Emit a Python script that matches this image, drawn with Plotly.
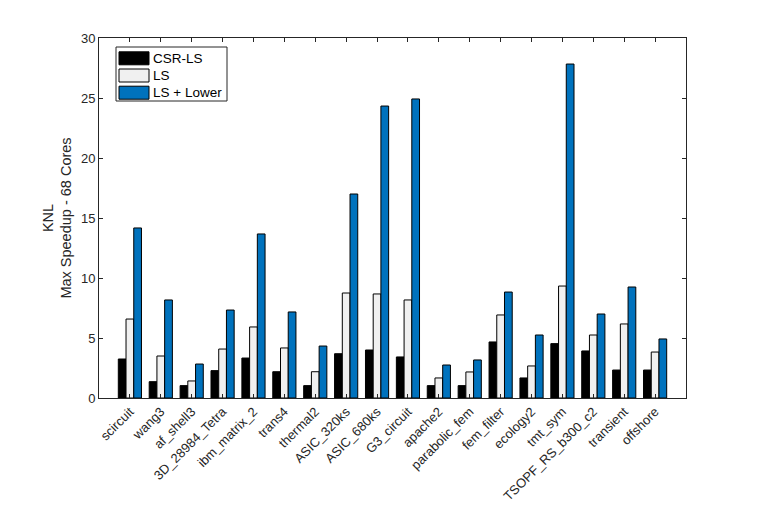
import plotly.graph_objects as go

categories = ["scircuit", "wang3", "af_shell3", "3D_28984_Tetra", "ibm_matrix_2", "trans4",
              "thermal2", "ASIC_320ks", "ASIC_680ks", "G3_circuit", "apache2", "parabolic_fem",
              "fem_filter", "ecology2", "tmt_sym", "TSOPF_RS_b300_c2", "transient", "offshore"]
csr_ls = [3.25, 1.36, 1.03, 2.28, 3.33, 2.19, 1.03, 3.69, 4.0, 3.42, 1.03, 1.03, 4.67, 1.67, 4.53, 3.92, 2.33, 2.33]
ls = [6.58, 3.5, 1.42, 4.08, 5.92, 4.17, 2.19, 8.75, 8.67, 8.17, 1.67, 2.17, 6.92, 2.67, 9.33, 5.25, 6.17, 3.83]
ls_lower = [14.17, 8.17, 2.83, 7.33, 13.67, 7.17, 4.33, 17.0, 24.33, 24.92, 2.75, 3.17, 8.83, 5.25, 27.83, 7.0, 9.25, 4.92]
series_names = ["CSR-LS", "LS", "LS + Lower"]
colors = ["#000000", "#F0F0F0", "#0072BD"]
y_ticks = [0, 5, 10, 15, 20, 25, 30]

x = list(range(1, len(categories) + 1))
fig = go.Figure()
for name, vals, col in zip(series_names, [csr_ls, ls, ls_lower], colors):
    fig.add_trace(go.Bar(x=x, y=vals, name=name, marker=dict(color=col, line=dict(color="black", width=1)),
                         showlegend=False))

font = "Liberation Sans, Arial, Helvetica, sans-serif"
fig.update_layout(
    width=758, height=507,
    margin=dict(l=99, r=72, t=38, b=109),
    paper_bgcolor="white", plot_bgcolor="white",
    barmode="group", bargap=0.25, bargroupgap=0,
    font=dict(family=font, size=13, color="#262626"),
    xaxis=dict(range=[0, len(categories) + 1], tickmode="array", tickvals=x, ticktext=categories,
               tickangle=-45, ticks="inside", ticklen=4, tickcolor="#262626", automargin=False,
               showline=True, linecolor="#262626", linewidth=1, mirror="ticks",
               showgrid=False, zeroline=False, tickfont=dict(size=13, color="#262626")),
    yaxis=dict(range=[0, 30], tickmode="array", tickvals=y_ticks, ticks="inside", ticklen=4,
               tickcolor="#262626", showline=True, linecolor="#262626", linewidth=1, mirror="ticks",
               showgrid=False, zeroline=False, tickfont=dict(size=13, color="#262626"), automargin=False,
               title=dict(text="KNL<br>Max Speedup - 68 Cores", font=dict(size=14.5, color="#262626"), standoff=5)),
)

# manual MATLAB-style legend
lx0, lx1 = 116, 227
ly0, ly1 = 47, 101
fig.add_shape(type="rect", xref="paper", yref="paper", x0=(lx0 - 99) / 587, x1=(lx1 - 99) / 587,
              y0=(398 - ly1) / 360, y1=(398 - ly0) / 360, line=dict(color="#262626", width=1),
              fillcolor="white", layer="above")
row_h = 17.2
for i, (name, col) in enumerate(zip(series_names, colors)):
    yc = ly0 + 11.3 + i * row_h
    fig.add_shape(type="rect", xref="paper", yref="paper",
                  x0=(119 - 99) / 587, x1=(149 - 99) / 587,
                  y0=(398 - (yc + 6.5)) / 360, y1=(398 - (yc - 6.5)) / 360,
                  line=dict(color="black", width=1), fillcolor=col, layer="above")
    fig.add_annotation(xref="paper", yref="paper", x=(151 - 99) / 587, y=(398 - yc) / 360,
                       text=name, showarrow=False, xanchor="left", yanchor="middle",
                       font=dict(size=13.5, color="black", family=font))

fig.write_html("out.html")
